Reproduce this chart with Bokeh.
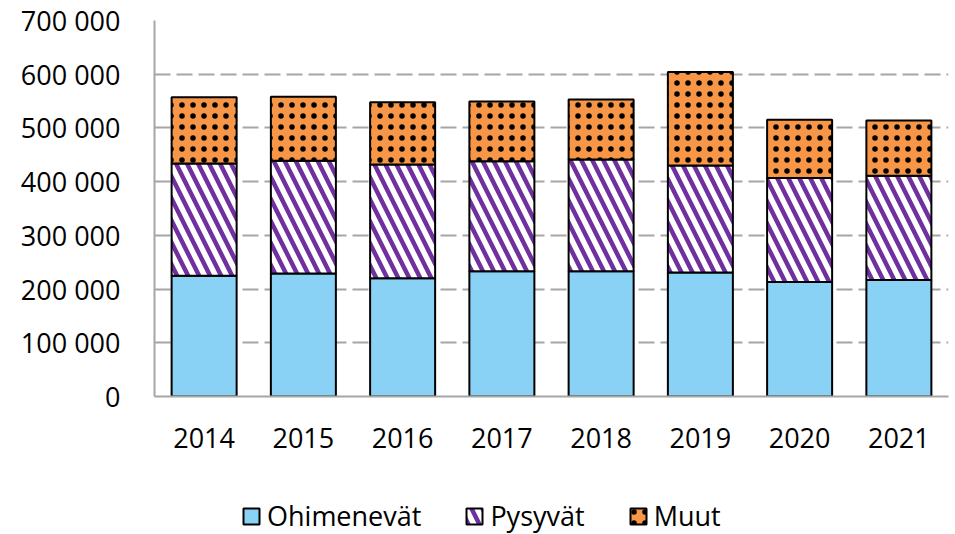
from bokeh.plotting import figure
from bokeh.layouts import column
from bokeh.models import (ColumnDataSource, Legend, LegendItem, FixedTicker,
                          CustomJSTickFormatter)
from bokeh.embed import file_html
from bokeh.resources import INLINE

years = ["2014", "2015", "2016", "2017", "2018", "2019", "2020", "2021"]
ohimenevat = [225000, 229000, 220000, 233000, 233000, 231000, 213000, 217000]
pysyvat = [209000, 210000, 212000, 205000, 208000, 199000, 194000, 194000]
muut = [123000, 119000, 116000, 111000, 112000, 174000, 108000, 103000]
series_names = ["Ohimenevät", "Pysyvät", "Muut"]
y_ticks = [0, 100000, 200000, 300000, 400000, 500000, 600000, 700000]

FONT = "Open Sans"
FS = "27px"

styles = dict(fill_color=["#89D1F5", "white", "#F79646"],
              line_color="black", line_width=2,
              hatch_pattern=[" ", "left_diagonal_line", "dot"],
              hatch_color=["black", "#7030A0", "black"],
              hatch_scale=[12, 22, 11],
              hatch_weight=[1, 4.5, 0.1])

src = ColumnDataSource(dict(years=years, o=ohimenevat, p=pysyvat, m=muut))

p = figure(x_range=years, y_range=(0, 700000), width=950, height=470,
           output_backend="svg", toolbar_location=None,
           min_border_left=154, min_border_right=2, min_border_top=20,
           min_border_bottom=74)
p.outline_line_color = None

r = p.vbar_stack(["o", "p", "m"], x="years", width=0.655, source=src, **styles)

p.yaxis.ticker = FixedTicker(ticks=y_ticks)
p.yaxis.formatter = CustomJSTickFormatter(code="""
    return tick.toString().replace(/\\B(?=(\\d{3})+(?!\\d))/g, " ");
""")
for ax in (p.xaxis, p.yaxis):
    ax.axis_line_color = "#A6A6A6"
    ax.axis_line_width = 2
    ax.major_tick_line_color = None
    ax.minor_tick_line_color = None
    ax.major_tick_out = 0
    ax.major_tick_in = 0
    ax.major_label_text_font = FONT
    ax.major_label_text_font_size = FS
    ax.major_label_text_color = "black"
p.yaxis.major_label_standoff = 34
p.xaxis.major_label_standoff = 31

p.xgrid.grid_line_color = None
p.ygrid.grid_line_color = "#A6A6A6"
p.ygrid.grid_line_width = 2
p.ygrid.grid_line_dash = "16 6"

# legend panel below the chart: same series on a range where they are not drawn,
# used only to provide the legend swatches
p2 = figure(width=950, height=64, x_range=["legend"], y_range=(0, 1),
            output_backend="svg", toolbar_location=None,
            x_axis_location=None, y_axis_location=None,
            min_border=0, min_border_left=154, min_border_right=2)
p2.outline_line_color = None
p2.grid.visible = False
r2 = p2.vbar_stack(["o", "p", "m"], x="years", width=0.655, source=src, **styles)

legend = Legend(items=[LegendItem(label=n, renderers=[rr]) for n, rr in zip(series_names, r2)],
                orientation="horizontal", location=(87, 0),
                label_text_font=FONT, label_text_font_size=FS,
                label_text_color="black",
                glyph_width=20, glyph_height=20, spacing=43, label_standoff=6,
                border_line_color=None, background_fill_alpha=0,
                margin=0, padding=0)
p2.add_layout(legend)

open("out.html", "w").write(file_html(column(p, p2, spacing=0), INLINE))
